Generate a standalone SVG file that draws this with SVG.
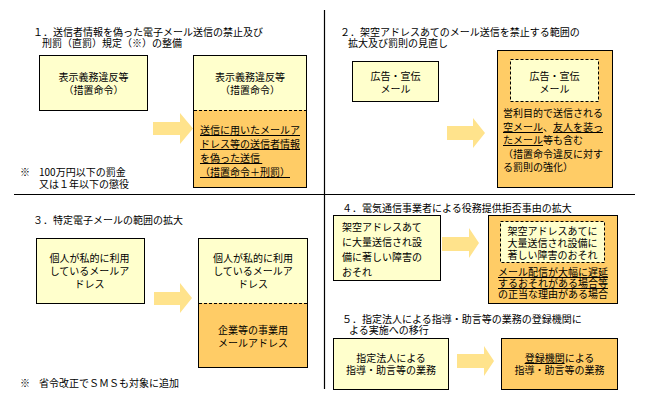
<svg xmlns="http://www.w3.org/2000/svg" width="650" height="400" viewBox="0 0 650 400">
<style>
text{font-family:"Noto Sans CJK JP","Noto Sans CJK SC",sans-serif;font-size:10px;fill:#000}
.c{text-anchor:middle}
.lt{fill:#FFFFCC;stroke:#000;stroke-width:1}
.or{fill:#FFCC66;stroke:#000;stroke-width:1}
.ltd{fill:#FFFFCC;stroke:#000;stroke-width:1;stroke-dasharray:3,2}
.dash{stroke:#000;stroke-width:1;stroke-dasharray:3,2;fill:none}
.arrow{fill:#FFE38C;stroke:none}
.u{text-decoration:underline}
.div{stroke:#000;stroke-width:1.2;fill:none}
</style>
<rect width="650" height="400" fill="#fff"/>
<g id="dividers">
<line class="div" x1="324.5" y1="10" x2="324.5" y2="389"/>
<line class="div" x1="14" y1="194.5" x2="635" y2="194.5"/>
</g>
<g id="titles">
<text x="33" y="36">１．送信者情報を偽った電子メール送信の禁止及び<tspan x="42" dy="11">刑罰（直罰）規定（※）の整備</tspan></text>
<text x="340" y="36">２．架空アドレスあてのメール送信を禁止する範囲の<tspan x="348" dy="11">拡大及び罰則の見直し</tspan></text>
<text x="33" y="224">３．特定電子メールの範囲の拡大</text>
<text x="342" y="212">４．電気通信事業者による役務提供拒否事由の拡大</text>
<text x="342" y="323">５．指定法人による指導・助言等の業務の登録機関に<tspan x="349" dy="11">よる実施への移行</tspan></text>
</g>
<g id="notes">
<text x="20" y="176">※</text>
<text x="39" y="176">100万円以下の罰金<tspan x="39" dy="12">又は１年以下の懲役</tspan></text>
<text x="20" y="387">※</text>
<text x="39" y="387">省令改正でＳＭＳも対象に追加</text>
</g>
<g id="n1a">
<rect class="lt" x="39.5" y="55.5" width="108" height="55"/>
<text class="c" x="93.5" y="81">表示義務違反等<tspan x="93.5" dy="13">（措置命令）</tspan></text>
</g>
<g id="n1b">
<rect class="or" x="193.5" y="55.5" width="113" height="132"/>
<rect x="194" y="56" width="112" height="54" fill="#FFFFCC"/>
<line class="dash" x1="194" y1="110.5" x2="306" y2="110.5"/>
<text class="c" x="250" y="81">表示義務違反等<tspan x="250" dy="13">（措置命令）</tspan></text>
<text x="200" y="134"><tspan class="u">送信に用いたメールア</tspan><tspan x="200" dy="14" class="u">ドレス等の送信者情報</tspan><tspan x="200" dy="14" class="u">を偽った送信 </tspan><tspan x="200" dy="14" class="u">（措置命令＋刑罰）</tspan></text>
</g>
<g id="n2a">
<rect class="lt" x="352.5" y="61.5" width="86" height="40"/>
<text class="c" x="395.5" y="80">広告・宣伝<tspan x="395.5" dy="13">メール</tspan></text>
</g>
<g id="n2b">
<rect class="or" x="497.5" y="50.5" width="115" height="137"/>
<rect class="ltd" x="510.5" y="59.5" width="88" height="42"/>
<text class="c" x="554.5" y="80">広告・宣伝<tspan x="554.5" dy="13">メール</tspan></text>
<text x="503" y="117">営利目的で送信される<tspan x="503" dy="14" class="u">空メール</tspan>、<tspan class="u">友人を装っ</tspan><tspan x="503" dy="13" class="u">たメール</tspan>等も含む<tspan x="503" dy="14">（措置命令違反に対す</tspan><tspan x="503" dy="13">る罰則の強化）</tspan></text>
</g>
<g id="n3a">
<rect class="lt" x="36.5" y="238.5" width="108" height="65"/>
<text class="c" x="89.5" y="262">個人が私的に利用<tspan x="89.5" dy="13">しているメールア</tspan><tspan x="89.5" dy="13">ドレス</tspan></text>
</g>
<g id="n3b">
<rect class="or" x="198.5" y="238.5" width="109" height="129"/>
<rect x="199" y="239" width="108" height="64" fill="#FFFFCC"/>
<line class="dash" x1="199" y1="303.5" x2="307" y2="303.5"/>
<text class="c" x="253" y="262">個人が私的に利用<tspan x="253" dy="13">しているメールア</tspan><tspan x="253" dy="13">ドレス</tspan></text>
<text class="c" x="253" y="334">企業等の事業用<tspan x="253" dy="13">メールアドレス</tspan></text>
</g>
<g id="n4a">
<rect class="lt" x="333.5" y="215.5" width="107" height="65"/>
<text x="342" y="231">架空アドレスあて<tspan x="342" dy="15">に大量送信され設</tspan><tspan x="342" dy="15">備に著しい障害の</tspan><tspan x="342" dy="15">おそれ</tspan></text>
</g>
<g id="n4b">
<rect class="or" x="488.5" y="215.5" width="129" height="88"/>
<rect class="ltd" x="500.5" y="221.5" width="104" height="41"/>
<text class="c" x="552.5" y="235">架空アドレスあてに<tspan x="552.5" dy="12">大量送信され設備に</tspan><tspan x="552.5" dy="12">著しい障害のおそれ</tspan></text>
<text x="498" y="276"><tspan class="u">メール配信が大幅に遅延</tspan><tspan x="498" dy="11" class="u">するおそれがある場合等</tspan><tspan x="498" dy="11">の正当な理由がある場合</tspan></text>
</g>
<g id="n5a">
<rect class="lt" x="333.5" y="338.5" width="115" height="51"/>
<text class="c" x="391" y="362">指定法人による<tspan x="391" dy="12">指導・助言等の業務</tspan></text>
</g>
<g id="n5b">
<rect class="or" x="501.5" y="338.5" width="116" height="51"/>
<text class="c" x="559.5" y="362"><tspan class="u">登録機関</tspan>による<tspan x="559.5" dy="12">指導・助言等の業務</tspan></text>
</g>
<g id="connectors">
<polygon class="arrow" points="153,122 180,122 180,113 193,128.5 180,144 180,135 153,135"/>
<polygon class="arrow" points="447,126 473,126 473,118 485,133 473,148 473,140 447,140"/>
<polygon class="arrow" points="154,292 180,292 180,283 192,298 180,313 180,305 154,305"/>
<polygon class="arrow" points="442,237 469,237 469,228 479,243 469,258 469,251 442,251"/>
<polygon class="arrow" points="457,354 484,354 484,346 494,361 484,376 484,368 457,368"/>
</g>
</svg>
